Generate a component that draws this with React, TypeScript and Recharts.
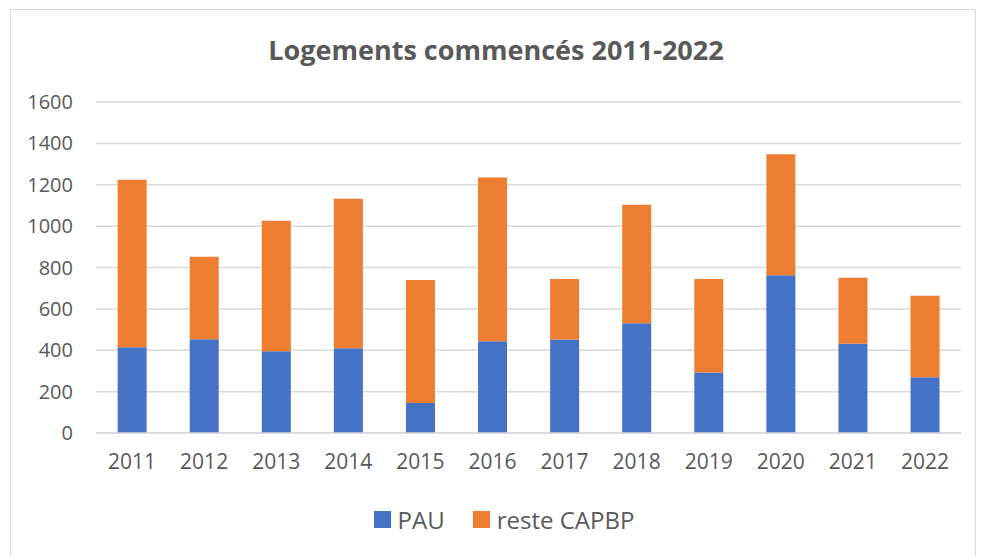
import { Bar, BarChart, CartesianGrid, XAxis, YAxis } from "recharts";

const years = ["2011", "2012", "2013", "2014", "2015", "2016", "2017", "2018", "2019", "2020", "2021", "2022"];
const pau = [414, 453, 395, 410, 145, 444, 452, 531, 292, 763, 431, 269];
const resteCapbp = [810, 399, 631, 722, 594, 791, 292, 572, 452, 585, 319, 394];
const yTicks = [0, 200, 400, 600, 800, 1000, 1200, 1400, 1600];

const series = [
  { key: "pau", name: "PAU", color: "#4472C4" },
  { key: "reste", name: "reste CAPBP", color: "#ED7D31" },
];

const data = years.map((y, i) => ({ year: y, pau: pau[i], reste: resteCapbp[i] }));

const FONT = "'Open Sans', sans-serif";
const GREY = "#595959";

export default function App() {
  return (
    <div
      style={{
        position: "absolute",
        left: 0,
        top: 0,
        width: 981,
        height: 556,
        overflow: "hidden",
        background: "#fff",
        fontFamily: FONT,
      }}
    >
      <div
        style={{
          position: "absolute",
          left: 10,
          top: 9,
          width: 964,
          height: 600,
          border: "1px solid #d9d9d9",
        }}
      />
      <div
        style={{
          position: "absolute",
          left: 0,
          width: 992,
          top: 34,
          textAlign: "center",
          fontSize: 27,
          lineHeight: "32px",
          fontWeight: 700,
          color: GREY,
        }}
      >
        Logements commencés 2011-2022
      </div>
      <div style={{ position: "absolute", left: 0, top: 0 }}>
        <BarChart
          width={981}
          height={556}
          data={data}
          margin={{ top: 102, right: 20, left: 0, bottom: 93 }}
          barCategoryGap="30%"
        >
          <CartesianGrid vertical={false} stroke="#d9d9d9" strokeWidth={1.5} />
          <XAxis
            dataKey="year"
            height={30}
            tickLine={false}
            axisLine={{ stroke: "#d9d9d9", strokeWidth: 1.5 }}
            tick={{ fill: GREY, fontSize: 21, fontFamily: FONT }}
            tickMargin={15}
          />
          <YAxis
            width={96}
            domain={[0, 1600]}
            ticks={yTicks}
            interval={0}
            tickLine={false}
            axisLine={false}
            tick={{ fill: GREY, fontSize: 20, fontFamily: FONT }}
            tickMargin={17}
          />
          {series.map((s) => (
            <Bar key={s.key} dataKey={s.key} name={s.name} stackId="a" fill={s.color} isAnimationActive={false} />
          ))}
        </BarChart>
      </div>
      <div
        style={{
          position: "absolute",
          left: 0,
          width: 1008,
          top: 503,
          display: "flex",
          justifyContent: "center",
          alignItems: "center",
          gap: 28,
          fontSize: 24,
          color: GREY,
        }}
      >
        {series.map((s) => (
          <div key={s.key} style={{ display: "flex", alignItems: "center", gap: 7 }}>
            <span style={{ display: "inline-block", width: 17, height: 17, background: s.color }} />
            <span>{s.name}</span>
          </div>
        ))}
      </div>
    </div>
  );
}
